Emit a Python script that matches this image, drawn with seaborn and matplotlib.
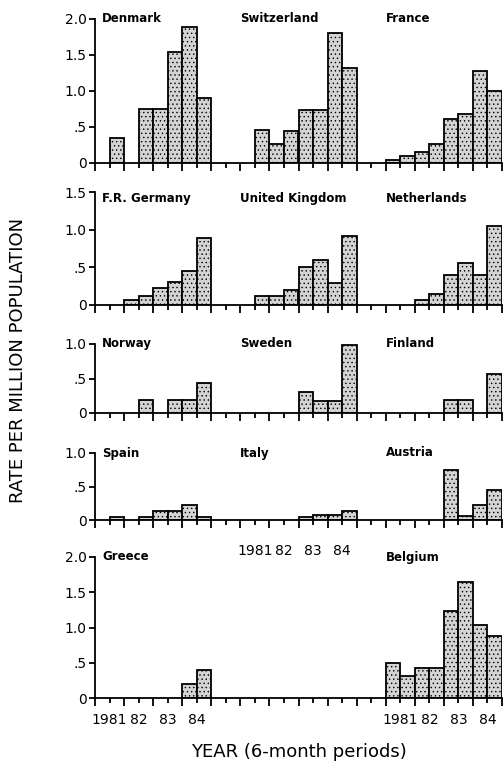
import numpy as np
import pandas as pd
import matplotlib
matplotlib.use("Agg")
import matplotlib.pyplot as plt
import seaborn as sns

# rate per million population, 8 half-year periods 1981-1984
denmark = [0, 0.35, 0, 0.75, 0.75, 1.54, 1.89, 0.90]
switzerland = [0, 0.46, 0.26, 0.44, 0.74, 0.74, 1.81, 1.32]
france = [0.04, 0.10, 0.15, 0.27, 0.61, 0.68, 1.28, 1.00]
germany = [0, 0, 0.06, 0.12, 0.22, 0.30, 0.45, 0.89]
uk = [0, 0.12, 0.12, 0.20, 0.50, 0.60, 0.29, 0.92]
netherlands = [0, 0, 0.06, 0.15, 0.40, 0.56, 0.40, 1.05]
norway = [0, 0, 0, 0.19, 0, 0.19, 0.19, 0.44]
sweden = [0, 0, 0, 0, 0.30, 0.18, 0.18, 0.98]
finland = [0, 0, 0, 0, 0.19, 0.19, 0, 0.56]
spain = [0, 0.05, 0, 0.04, 0.14, 0.14, 0.22, 0.04]
italy = [0, 0, 0, 0, 0.04, 0.07, 0.08, 0.14]
austria = [0, 0, 0, 0, 0.74, 0.06, 0.22, 0.45]
greece = [0, 0, 0, 0, 0, 0, 0.20, 0.40]
belgium = [0.50, 0.31, 0.42, 0.42, 1.23, 1.64, 1.03, 0.88]

year_labels = ["1981", "82", "83", "84"]

# one row of panels = three countries on one axis
rows = [
    (["Denmark", "Switzerland", "France"], [denmark, switzerland, france], 2.0),
    (["F.R. Germany", "United Kingdom", "Netherlands"], [germany, uk, netherlands], 1.5),
    (["Norway", "Sweden", "Finland"], [norway, sweden, finland], 1.0),
    (["Spain", "Italy", "Austria"], [spain, italy, austria], 1.0),
    (["Greece", None, "Belgium"], [greece, None, belgium], 2.0),
]
# which blocks get year labels under them, per row
labelled_blocks = [[], [], [], [1], [0, 2]]

# pixel layout of each row (top of axis, zero line)
row_px = [(19, 163), (192, 305), (344, 413), (453, 520), (557, 698)]
W, H = 504, 765
BLOCK = 10  # 8 periods + 2 empty slots between countries

sns.set_style("ticks")
plt.rcParams["font.family"] = ["DejaVu Sans"]
plt.rcParams["axes.linewidth"] = 1.3
plt.rcParams["hatch.linewidth"] = 0.5
for k in ["text.color", "axes.edgecolor", "xtick.color", "ytick.color",
          "axes.labelcolor"]:
    plt.rcParams[k] = "black"

fig = plt.figure(figsize=(W / 100, H / 100), dpi=100)


def fmt(v):
    if v == 0:
        return "0"
    if v < 1:
        return ".5"
    return f"{v:.1f}"


for r, (names, series, ymax) in enumerate(rows):
    top, zero = row_px[r]
    ax = fig.add_axes([95 / W, 1 - zero / H, 407 / W, (zero - top) / H])

    recs = []
    for b, vals in enumerate(series):
        if vals is None:
            continue
        for i, v in enumerate(vals):
            recs.append({"pos": BLOCK * b + i, "rate": v})
    df = pd.DataFrame(recs)
    df = df[df["rate"] > 0]

    sns.barplot(data=df, x="pos", y="rate", native_scale=True, width=1.0,
                color="#d4d4d4", saturation=1, edgecolor="black",
                linewidth=1.3, errorbar=None, ax=ax)
    # stippled fill like the printed original
    for p in ax.patches:
        p.set_hatch("....")

    ax.set_xlim(-0.5, 2 * BLOCK + 7.5)
    ax.set_ylim(0, ymax)
    sns.despine(ax=ax)
    ax.set_xlabel("")
    ax.set_ylabel("")

    yt = np.arange(0, ymax + 0.01, 0.5)
    ax.set_yticks(yt, [fmt(v) for v in yt])
    ax.tick_params(axis="y", direction="out", length=4, width=1.3, pad=2,
                   labelsize=10)

    # long ticks at year boundaries, short ticks at mid-year (carry labels)
    major = np.arange(-0.5, 2 * BLOCK + 8, 2)
    minor = np.arange(0.5, 2 * BLOCK + 8, 2)
    minor_lab = []
    for m in minor:
        b = int(m // BLOCK)
        k = int((m - BLOCK * b) // 2)
        if b in labelled_blocks[r] and m - BLOCK * b < 8:
            minor_lab.append(year_labels[k])
        else:
            minor_lab.append("")
    ax.set_xticks(major, [""] * len(major))
    ax.set_xticks(minor, minor_lab, minor=True)
    pad = 14 if r == 3 else 7
    ax.tick_params(axis="x", which="major", direction="out", length=6, width=1.3)
    ax.tick_params(axis="x", which="minor", direction="out", length=3.5,
                   width=1.3, labelsize=10, pad=pad)

    for b, name in enumerate(names):
        if name is None:
            continue
        x0 = 0.0 if b == 0 else BLOCK * b - 0.5
        ax.text(x0, ymax * (0.94 if r == 1 else 1.0), name, fontsize=8.5,
                fontweight="bold", va="center", ha="left")

fig.text(18 / W, 1 - 360 / H, "RATE PER MILLION POPULATION", rotation=90,
         ha="center", va="center", fontsize=13)
fig.text(299 / W, 1 - 752 / H, "YEAR (6-month periods)", ha="center",
         va="center", fontsize=13)

fig.savefig("out.png", dpi=100)
